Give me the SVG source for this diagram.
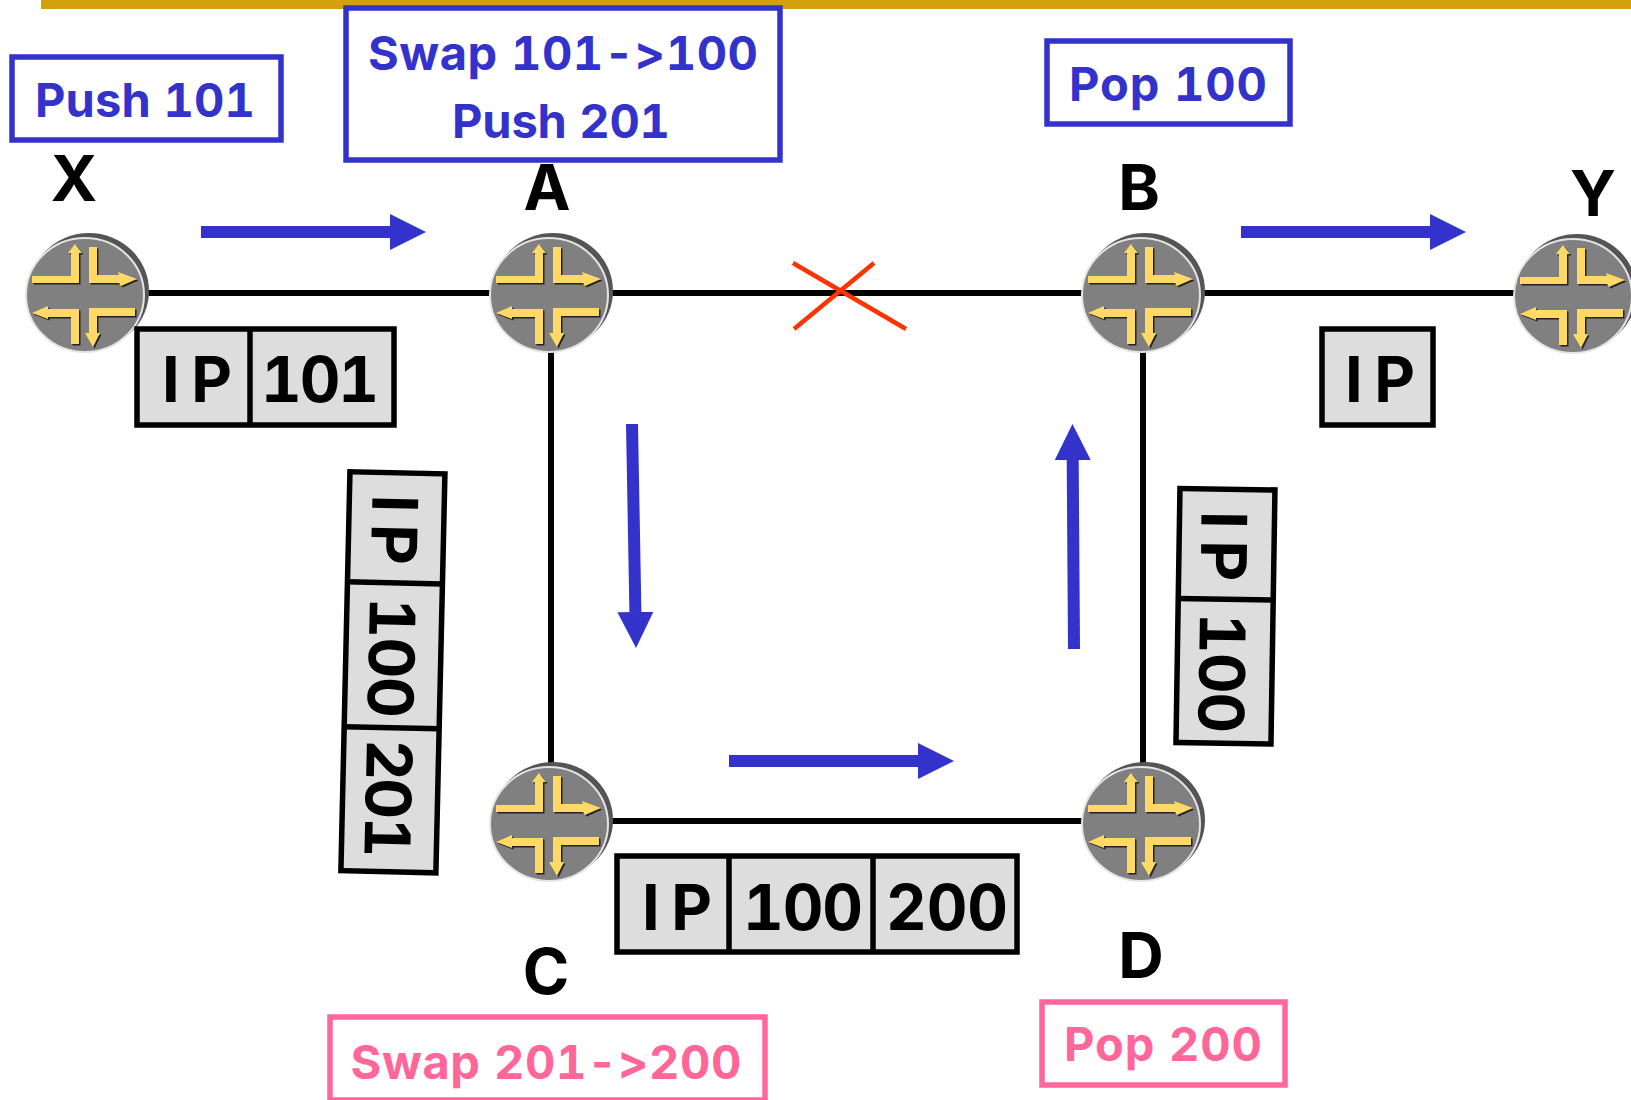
<svg xmlns="http://www.w3.org/2000/svg" width="1631" height="1100" viewBox="0 0 1631 1100">
<style>
text{font-family:Inter,"Liberation Sans",sans-serif;font-weight:700;text-anchor:middle;font-variant-ligatures:none;font-feature-settings:"calt" 0,"liga" 0,"tnum" 1}
.lab{font-size:63px;fill:#000}
.cell{font-size:63px;fill:#000}
.blue{font-size:47px;fill:#3333cc}
.pink{font-size:47px;fill:#ff6699}
.bb{fill:#fff;stroke:#3333cc;stroke-width:5.5}
.pb{fill:#fff;stroke:#ff6699;stroke-width:5.5}
.c{fill:#dddddd;stroke:#000;stroke-width:5.5}
.d{stroke:#000;stroke-width:5.5;fill:none}
.ln{stroke:#000;stroke-width:6;fill:none}
.ar{stroke:#3333cc;stroke-width:12;fill:none;marker-end:url(#ah)}
.x{stroke:#ff3300;stroke-width:4.5;fill:none}
</style>
<defs>
<marker id="ah" markerUnits="userSpaceOnUse" markerWidth="36" markerHeight="36" refX="0" refY="18" orient="auto"><path d="M0 0L36 18L0 36Z" fill="#3333cc"/></marker>
<g id="ar4"><path d="M-53-19H-14V-42H-17L-10-51L-3-42H-6V-12H-53Z"/><path d="M4-48H12V-20H34L33-23L52-16L36-9L34-12H4Z"/><path d="M-53 18L-37 11V14H-6V49H-14V22H-37V24Z"/><path d="M4 13H50V21H12V38H15L8 52L0 38H4Z"/></g>
<g id="router">
<ellipse cx="4" cy="-4" rx="60" ry="58" fill="#555"/>
<ellipse rx="59" ry="57" fill="#808080" stroke="#e4e4e4" stroke-width="2"/>
<use href="#ar4" x="1.5" y="1.5" fill="#222"/>
<use href="#ar4" fill="#ffd966"/>
</g>
</defs>
<rect x="41" y="0" width="1590" height="9" fill="#d4a00c"/>
<g id="connectors">
<path class="ln" d="M85 293H1574M551 293V821H1143V293"/>
<path class="x" d="M793 263L906 329M874 263L794 329"/>
<path class="ar" d="M201 232H390"/>
<path class="ar" d="M1241 232H1430"/>
<path class="ar" d="M632 424L635.4 612"/>
<path class="ar" d="M1074 649L1072.7 460"/>
<path class="ar" d="M729 761H918"/>
</g>
<g id="X"><use href="#router" x="85" y="295"/><text class="lab" x="74" y="201">X</text></g>
<g id="A"><use href="#router" x="549" y="295"/><text class="lab" x="547" y="210">A</text></g>
<g id="B"><use href="#router" x="1141" y="295"/><text class="lab" x="1139" y="210">B</text></g>
<g id="Y"><use href="#router" x="1573" y="296"/><text class="lab" x="1593" y="216">Y</text></g>
<g id="C"><use href="#router" x="549" y="824"/><text class="lab" x="546" y="994">C</text></g>
<g id="D"><use href="#router" x="1141" y="824"/><text class="lab" x="1141" y="978">D</text></g>
<g id="op-push101"><rect class="bb" x="12" y="57" width="269" height="83"/><text class="blue" x="145" y="117" textLength="220">Push 101</text></g>
<g id="op-swap101"><rect class="bb" x="346" y="8" width="434" height="152"/><text class="blue" x="563" y="70" textLength="390">Swap 101-&gt;100</text><text class="blue" x="561" y="138" textLength="218">Push 201</text></g>
<g id="op-pop100"><rect class="bb" x="1047" y="41" width="243" height="83"/><text class="blue" x="1168" y="101" textLength="198">Pop 100</text></g>
<g id="op-pop200"><rect class="pb" x="1042" y="1002" width="243" height="83"/><text class="pink" x="1163" y="1061" textLength="198">Pop 200</text></g>
<g id="op-swap201"><rect class="pb" x="330" y="1017" width="435" height="83"/><text class="pink" x="546" y="1079" textLength="391">Swap 201-&gt;200</text></g>
<g id="pkt-ip101"><rect class="c" x="137" y="329" width="257" height="96"/><path class="d" d="M250 329V425"/><text class="cell" x="197" y="402" textLength="70">IP</text><text class="cell" x="320" y="402" textLength="118">101</text></g>
<g id="pkt-ip"><rect class="c" x="1322" y="329" width="111" height="96"/><text class="cell" x="1380" y="402" textLength="70">IP</text></g>
<g id="pkt-ip100200"><rect class="c" x="617" y="856" width="400" height="96"/><path class="d" d="M729 856V952M873 856V952"/><text class="cell" x="677" y="930" textLength="70">IP</text><text class="cell" x="803" y="930" textLength="120">100</text><text class="cell" x="947" y="930" textLength="122">200</text></g>
<g id="pkt-ip100201" transform="translate(448 471) rotate(91.3)"><rect class="c" x="3" y="3" width="399" height="95"/><path class="d" d="M113 3V98M258 3V98"/><text class="cell" x="60" y="75" textLength="70">IP</text><text class="cell" x="188" y="75" textLength="120">100</text><text class="cell" x="329" y="75" textLength="118">201</text></g>
<g id="pkt-ip100" transform="translate(1278 487) rotate(90.9)"><rect class="c" x="3" y="3" width="254" height="95"/><path class="d" d="M113 3V98"/><text class="cell" x="60" y="76" textLength="70">IP</text><text class="cell" x="187" y="76" textLength="120">100</text></g>
</svg>
